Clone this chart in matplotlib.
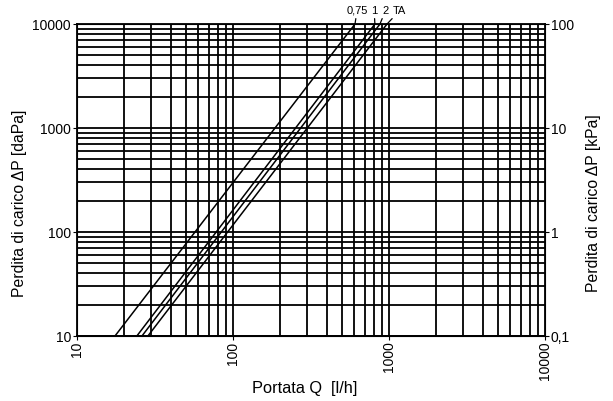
import matplotlib
matplotlib.use("Agg")
import matplotlib.pyplot as plt
import numpy as np
from matplotlib.ticker import FixedLocator, NullFormatter, NullLocator

plt.rcParams['font.family'] = ['Liberation Sans', 'DejaVu Sans']

# Curves: flow Q [l/h] at dP = 10 daPa and at dP = 10000 daPa
curve_labels = ["0,75", "1", "2", "TA"]
q_at_10 = [17.6, 24.3, 26.2, 28.6]
q_at_10000 = [607, 814, 877, 973]
dp_ends = [10, 10000]

x_ticks = [10, 100, 1000, 10000]
x_ticklabels = ["10", "100", "1000", "10000"]
y_ticks = [10, 100, 1000, 10000]
y_ticklabels = ["10", "100", "1000", "10000"]
y2_ticks = [0.1, 1, 10, 100]
y2_ticklabels = ["0,1", "1", "10", "100"]

# label positions (Q in l/h) above the top frame
label_q = [625, 805, 950, 1170]

fig = plt.figure(figsize=(6.13, 4.01), dpi=100)
ax = fig.add_axes([0.125, 0.162, 0.764, 0.778])
ax.set_xscale('log')
ax.set_yscale('log')
ax.set_xlim(10, 10000)
ax.set_ylim(10, 10000)

# grid lines
for dec in [10, 100, 1000]:
    for m in range(1, 10):
        v = dec * m
        ax.axvline(v, color='black', lw=1.3, zorder=1)
        ax.axhline(v, color='black', lw=1.3, zorder=1)

for q0, q1 in zip(q_at_10, q_at_10000):
    ax.plot([q0, q1], dp_ends, color='black', lw=1.1, zorder=2, clip_on=False)

for lab, qx, qt in zip(curve_labels, label_q, q_at_10000):
    ax.annotate(lab, xy=(qt, 10000), xytext=(qx, 10000 * 1.2),
                ha='center', va='bottom', fontsize=8,
                annotation_clip=False,
                arrowprops=dict(arrowstyle='-', color='black', lw=0.9,
                                shrinkA=0, shrinkB=0))

ax.xaxis.set_major_locator(FixedLocator(x_ticks))
ax.xaxis.set_minor_locator(NullLocator())
ax.set_xticklabels(x_ticklabels, rotation=90, fontsize=10)
ax.yaxis.set_major_locator(FixedLocator(y_ticks))
ax.yaxis.set_minor_locator(NullLocator())
ax.set_yticklabels(y_ticklabels, fontsize=10)
ax.tick_params(axis='both', length=3, width=0.8, pad=1, color='black')
for s in ax.spines.values():
    s.set_linewidth(1.3)

ax.set_xlabel("Portata Q  [l/h]", fontsize=11.8)
ax.xaxis.set_label_coords(0.4875, -0.145)
ax.set_ylabel("Perdita di carico \u0394P [daPa]", fontsize=11.3)
ax.yaxis.set_label_coords(-0.106, 0.426)

ax2 = ax.twinx()
ax2.set_yscale('log')
ax2.set_ylim(0.1, 100)
ax2.yaxis.set_major_locator(FixedLocator(y2_ticks))
ax2.yaxis.set_minor_locator(NullLocator())
ax2.set_yticklabels(y2_ticklabels, fontsize=10)
ax2.tick_params(axis='y', length=3, width=0.8, pad=1)
ax2.set_ylabel("Perdita di carico \u0394P [kPa]", fontsize=11.3)
ax2.yaxis.set_label_coords(1.087, 0.426)

fig.savefig("out.png", dpi=100)
